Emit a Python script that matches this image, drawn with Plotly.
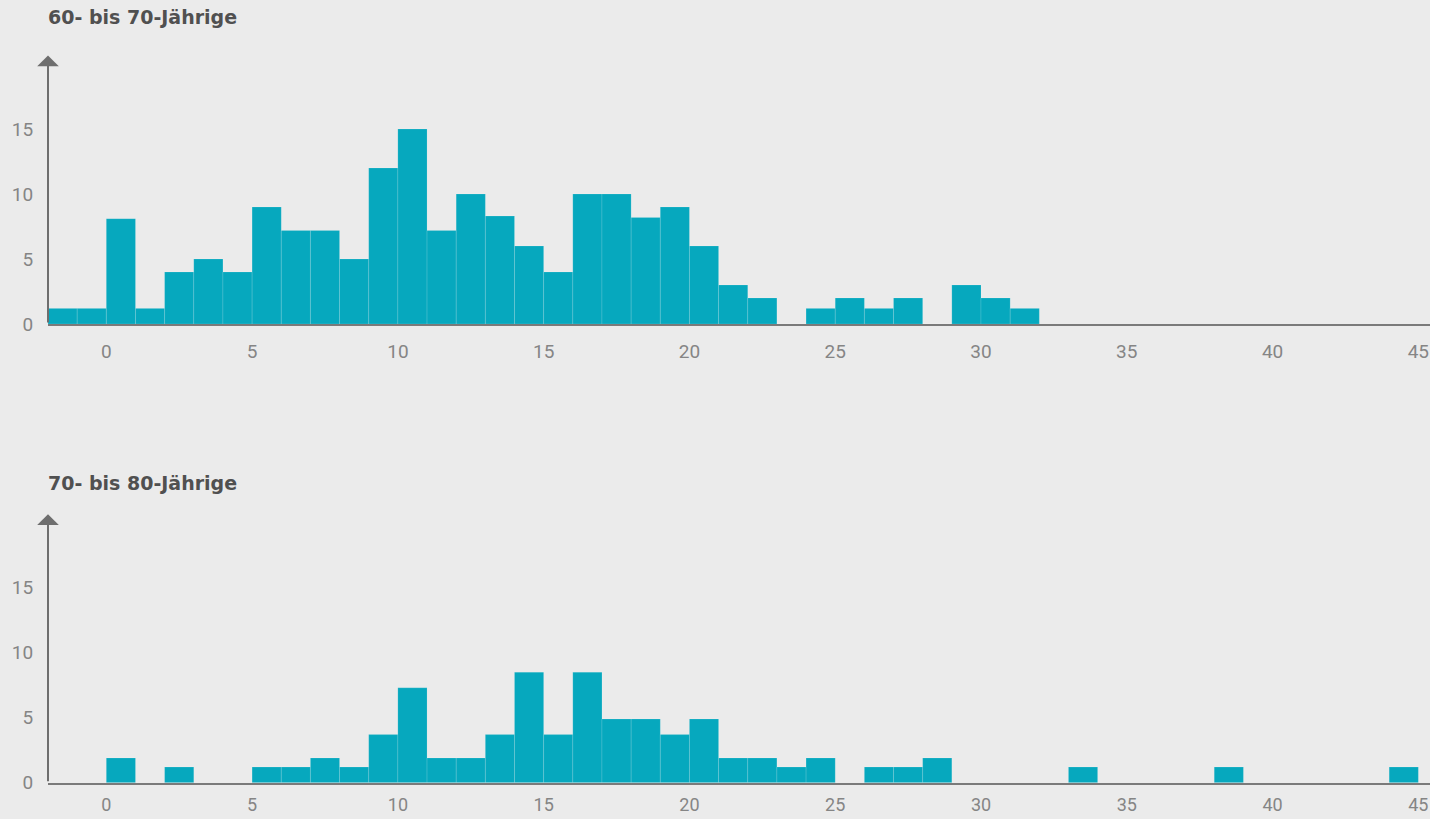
import plotly.graph_objects as go

# ---- data ----
titles = ["60- bis 70-Jährige", "70- bis 80-Jährige"]

bins_6070 = list(range(-2, 32))
vals_6070 = [1.2, 1.2, 8.1, 1.2, 4.0, 5.0, 4.0, 9.0, 7.2, 7.2,
             5.0, 12.0, 15.0, 7.2, 10.0, 8.3, 6.0, 4.0, 10.0, 10.0,
             8.2, 9.0, 6.0, 3.0, 2.0, 0.0, 1.2, 2.0, 1.2, 2.0,
             0.0, 3.0, 2.0, 1.2]

bins_7080 = [0, 2, 5, 6, 7, 8, 9, 10, 11, 12, 13, 14, 15, 16, 17, 18, 19, 20,
             21, 22, 23, 24, 26, 27, 28, 33, 38, 44]
vals_7080 = [1.9, 1.2, 1.2, 1.2, 1.9, 1.2, 3.7, 7.3, 1.9, 1.9, 3.7, 8.5, 3.7, 8.5,
             4.9, 4.9, 3.7, 4.9, 1.9, 1.9, 1.2, 1.9, 1.2, 1.2, 1.9, 1.2, 1.2, 1.2]

x_ticks = [0, 5, 10, 15, 20, 25, 30, 35, 40, 45]
y_ticks = [0, 5, 10, 15]

# ---- styling ----
W, H = 1430, 819
BG = "#ebebeb"
TEAL = "#06a8be"
AXIS = "#7a7a7a"
TICKC = "#858585"
TITLEC = "#505050"
X_RANGE = [-2, 45.4]
Y_RANGE = [0, 21]
ARROW_TOP = 20.65

def py(px):
    return 1 - px / H

fig = go.Figure()
bar_line = dict(width=1, color="rgba(255,255,255,0.13)")
fig.add_trace(go.Bar(x=bins_6070, y=vals_6070, offset=0, width=1,
                     marker=dict(color=TEAL, line=bar_line),
                     xaxis="x", yaxis="y", showlegend=False, hoverinfo="x+y"))
fig.add_trace(go.Bar(x=bins_7080, y=vals_7080, offset=0, width=1,
                     marker=dict(color=TEAL, line=bar_line),
                     xaxis="x2", yaxis="y2", showlegend=False, hoverinfo="x+y"))

tickfont = dict(family="Roboto, 'Open Sans', sans-serif", size=19, color=TICKC)
xtickfont_bot = dict(family="Roboto, 'Open Sans', sans-serif", size=18, color=TICKC)
xdom = [48 / W, 1]

def xaxis(anchor, tl, tf):
    return dict(domain=xdom, anchor=anchor, range=X_RANGE, tickvals=x_ticks,
                showline=True, linecolor=AXIS, linewidth=2, showgrid=False,
                zeroline=False, ticks="outside", ticklen=tl, automargin=False,
                tickcolor="rgba(0,0,0,0)", tickfont=tf, fixedrange=True)

def yaxis(anchor, dom):
    return dict(domain=dom, anchor=anchor, range=Y_RANGE, tickvals=y_ticks,
                showline=False, showgrid=False, zeroline=False, automargin=False,
                ticks="outside", ticklen=10, tickcolor="rgba(0,0,0,0)",
                tickfont=tickfont, fixedrange=True)

top_base, bot_base = 324.0, 782.7
unit = 13.0
dom_top = [py(top_base), py(top_base - unit * Y_RANGE[1])]
dom_bot = [py(bot_base), py(bot_base - unit * Y_RANGE[1])]

annotations = []
for xr, yr in (("x", "y"), ("x2", "y2")):
    annotations.append(dict(
        x=X_RANGE[0], y=ARROW_TOP, xref=xr, yref=yr,
        ax=X_RANGE[0], ay=0, axref=xr, ayref=yr,
        text="", showarrow=True, arrowhead=1, arrowsize=1.8,
        arrowwidth=2, arrowcolor="#6e6e6e", standoff=0, startstandoff=0))

titlefont = dict(family="'DejaVu Sans', Roboto, sans-serif", size=19, color=TITLEC)
for t, ypx in zip(titles, (17, 483)):
    annotations.append(dict(text="<b>" + t + "</b>", xref="paper", yref="paper",
                            x=46 / W, y=py(ypx), xanchor="left", yanchor="middle",
                            showarrow=False, font=titlefont))

fig.update_layout(
    width=W, height=H, paper_bgcolor=BG, plot_bgcolor=BG,
    margin=dict(l=0, r=0, t=0, b=0, autoexpand=False),
    xaxis=xaxis("y", 9, tickfont), yaxis=yaxis("x", dom_top),
    xaxis2=xaxis("y2", 5, xtickfont_bot), yaxis2=yaxis("x2", dom_bot),
    annotations=annotations, barmode="overlay", showlegend=False,
)

post = (
    "var s=document.createElement('style');"
    "s.textContent='html,body{margin:0;padding:0;overflow:hidden;background:%s}';"
    "document.head.appendChild(s);" % BG
)
fig.write_html("out.html", config={"displayModeBar": False}, post_script=post)
